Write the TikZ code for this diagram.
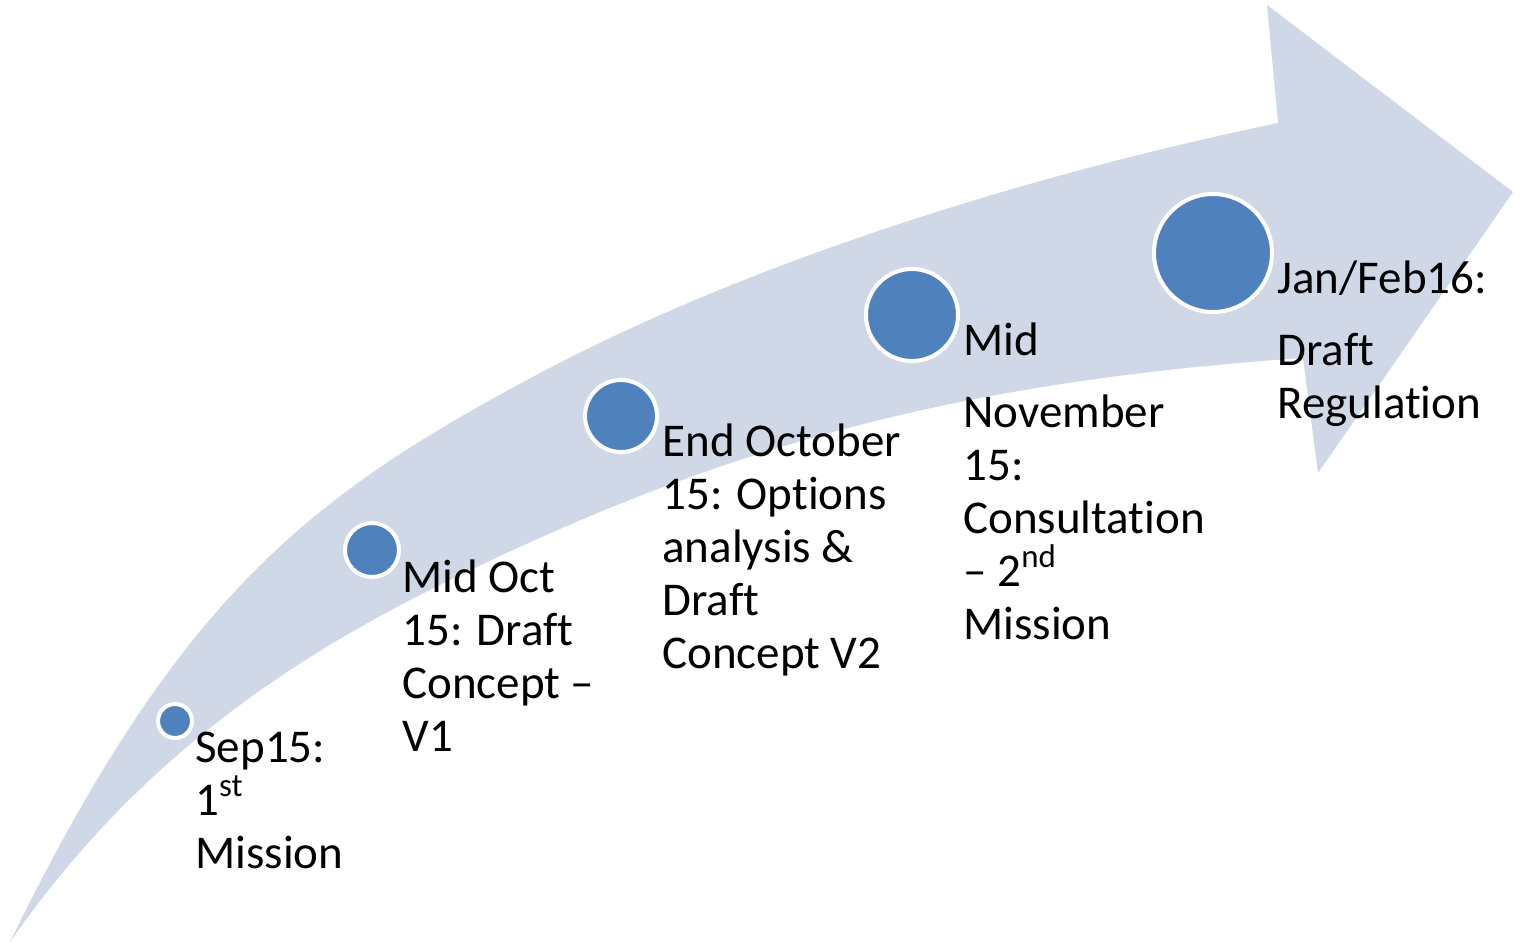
\documentclass[tikz,border=0pt]{standalone}
\usepackage{fontspec}
\setmainfont[Ligatures={TeX,NoCommon}]{Carlito}
\definecolor{arrow_band}{RGB}{208, 216, 232}
\definecolor{dot_blue}{RGB}{79, 129, 189}

\begin{document}
\begin{tikzpicture}[
    x=0.5pt, y=-0.5pt,
    dot/.style={
        circle,
        draw=white,
        fill=dot_blue,
        line width=2pt,
        inner sep=0pt,
        minimum size=#1
    },
    milestone/.style={
        anchor=base west,
        align=left,
        inner sep=0pt,
        font=\fontsize{23.5}{26.5}\selectfont
    }
]
\useasboundingbox (0,0) rectangle (1520,944);

% Curved arrow band
\fill[arrow_band] (10,942)
    .. controls (177,600) and (307,498) .. (527,380)
    .. controls (747,261) and (1033,174) .. (1278,123)
    -- (1267,5) -- (1513,192) -- (1318,473) -- (1303,358)
    .. controls (953,382) and (719,448) .. (450,580)
    .. controls (288,659) and (135,762) .. (10,942)
    -- cycle;

% Milestone dots
\node[dot=17pt] (sep) at (175,721) {};
\node[dot=27pt] (midoct) at (372,550) {};
\node[dot=36pt] (endoct) at (621,416) {};
\node[dot=46pt] (midnov) at (912,315) {};
\node[dot=59pt] (janfeb) at (1213,253) {};

% Milestone labels (anchored at the last line)
\node[milestone] (sep_text) at (195,868) {Sep15:\\1\textsuperscript{st}\\Mission};
\node[milestone] (midoct_text) at (402,751) {Mid Oct\\15: Draft\\Concept \textendash\\V1};
\node[milestone] (endoct_text) at (662,668) {End October\\15: Options\\analysis \&\\Draft\\Concept V2};
\node[milestone] (midnov_text) at (963,639) {Mid\\[9.5pt]November\\15:\\Consultation\\\textendash{} 2\textsuperscript{nd}\\Mission};
\node[milestone] (janfeb_text) at (1277,418) {Jan/Feb16:\\[9.5pt]Draft\\Regulation};

\end{tikzpicture}
\end{document}
